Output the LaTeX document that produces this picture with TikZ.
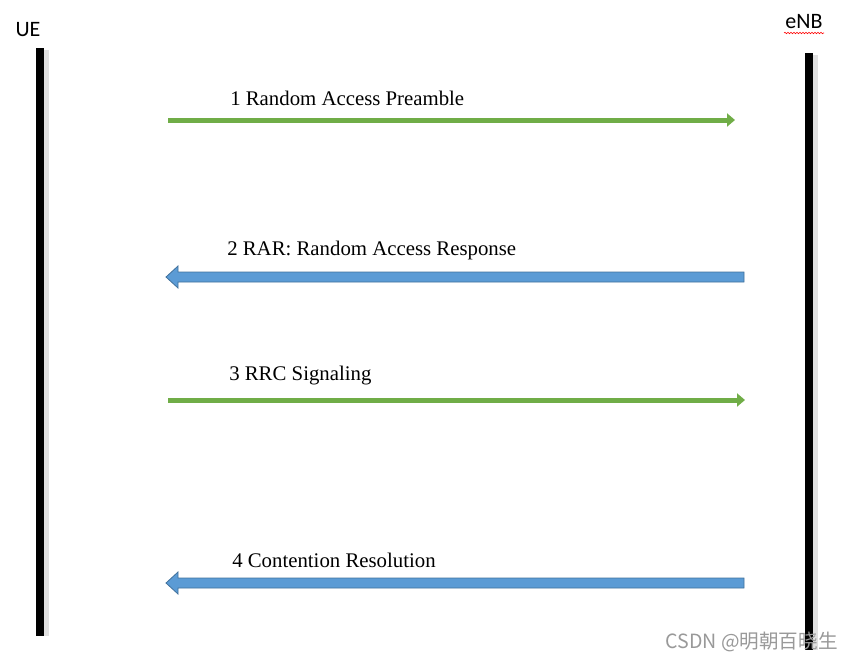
\documentclass[tikz,border=0pt]{standalone}
\usepackage{fontspec}
\setmainfont{Liberation Serif}
\newfontfamily\labelfont{Carlito}
\newfontfamily\cjkfont{Noto Sans CJK SC}
\usetikzlibrary{arrows.meta,calc,decorations.pathmorphing}
\definecolor{msggreen}{RGB}{112,173,71}
\definecolor{msgblue}{RGB}{91,155,213}
\definecolor{msgborder}{RGB}{65,113,156}
\tikzset{actor/.style={font=\labelfont\fontsize{16.5}{18}\selectfont,inner sep=0pt}}
\tikzset{lifeline/.style={line width=6pt,black}}
\tikzset{lifeshadow/.style={line width=4.5pt,black!12}}
\tikzset{msgtext/.style={font=\fontsize{15.6}{18}\selectfont,inner sep=0pt,anchor=base west}}
\tikzset{greenmsg/.style={-{Triangle[length=6pt,width=9.75pt]},line width=3.75pt,msggreen}}
\tikzset{bluemsg/.style={fill=msgblue,draw=msgborder,line width=0.6pt,line join=miter}}

\begin{document}
\begin{tikzpicture}[x=0.75pt,y=-0.75pt]
    \useasboundingbox (0,0) rectangle (853,661);
    % lifelines
    \node [actor] (ue) at (28,30) {UE};
    \node [actor] (enb) at (804,22) {eNB};
    \draw [red,line width=0.45pt,decorate,decoration={snake,amplitude=0.5pt,segment length=2.25pt}] (784,33) -- (824,33);
    \coordinate (ueTop) at (40,48);
    \coordinate (ueBot) at (40,636);
    \coordinate (enbTop) at (809,53);
    \coordinate (enbBot) at (809,650);
    \draw [lifeshadow] ($(ueTop)+(6,2)$) -- ($(ueBot)+(6,0)$);
    \draw [lifeshadow] ($(enbTop)+(6,2)$) -- ($(enbBot)+(6,0)$);
    \draw [lifeline] (ueTop) -- (ueBot);
    \draw [lifeline] (enbTop) -- (enbBot);
    % messages
    \coordinate (m1s) at (168,120);
    \coordinate (m1e) at (735,120);
    \coordinate (m2s) at (744,277);
    \coordinate (m2e) at (166,277);
    \coordinate (m3s) at (168,400);
    \coordinate (m3e) at (745,400);
    \coordinate (m4s) at (744,583);
    \coordinate (m4e) at (166,583);
    \draw [greenmsg] (m1s) -- (m1e);
    \node [msgtext] (t1) at (230,105) {1 Random Access Preamble};
    \draw [bluemsg] ($(m2s)+(0,-5)$) -- ($(m2e)+(12,-5)$) -- ($(m2e)+(12,-11)$) -- (m2e) -- ($(m2e)+(12,11)$) -- ($(m2e)+(12,5)$) -- ($(m2s)+(0,5)$) -- cycle;
    \node [msgtext] (t2) at (227,255) {2 RAR: Random Access Response};
    \draw [greenmsg] (m3s) -- (m3e);
    \node [msgtext] (t3) at (229,380) {3 RRC Signaling};
    \draw [bluemsg] ($(m4s)+(0,-5)$) -- ($(m4e)+(12,-5)$) -- ($(m4e)+(12,-11)$) -- (m4e) -- ($(m4e)+(12,11)$) -- ($(m4e)+(12,5)$) -- ($(m4s)+(0,5)$) -- cycle;
    \node [msgtext] (t4) at (232,567) {4 Contention Resolution};
    % watermark
    \node [font=\cjkfont\fontsize{14.7}{17}\selectfont,text=black!40,inner sep=0pt,anchor=east] (mark) at (838,642) {CSDN @明朝百晓生};
\end{tikzpicture}
\end{document}
